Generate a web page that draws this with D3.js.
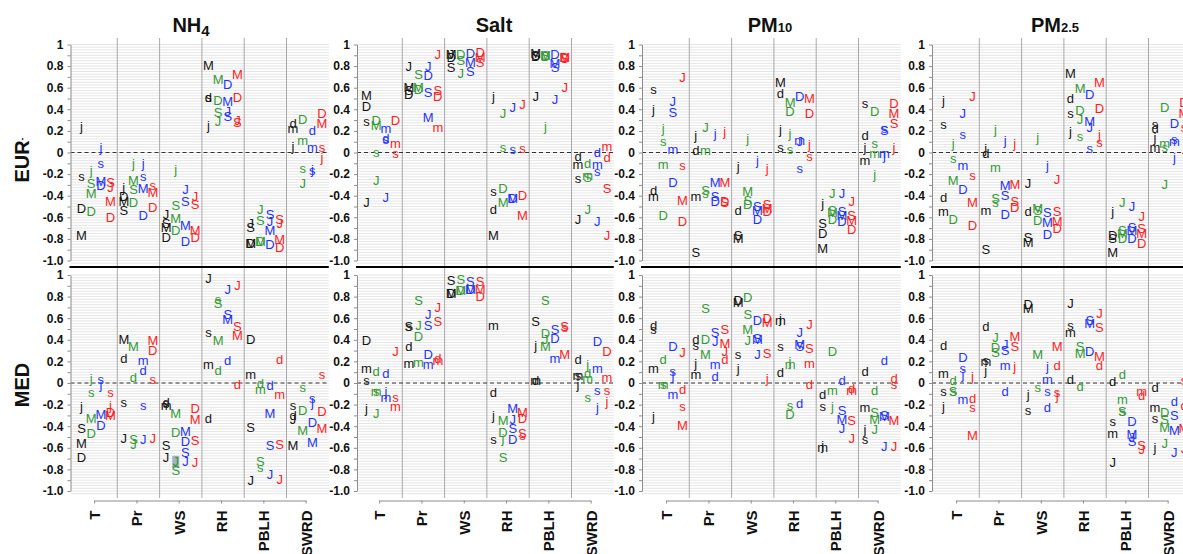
<!DOCTYPE html>
<html lang="en">
<head>
<meta charset="UTF-8">
<title>Correlations by meteorological variable</title>
<style>
  body { margin: 0; background: #fff; }
  svg { display: block; font-family: "Liberation Sans", Arial, sans-serif; }
  .grid line { stroke: #dedede; stroke-width: 0.8; }
  .sep { stroke: #a9a9a9; stroke-width: 1; }
  .zero { stroke: #333; stroke-width: 1; stroke-dasharray: 4,3; }
  .yaxis path, .yaxis line, .xaxis path, .xaxis line { stroke: #8c8c8c; }
  .yaxis text { font-size: 12px; font-weight: bold; fill: #111; }
  .xaxis text { font-size: 15px; font-weight: bold; fill: #111; }
  .title { font-size: 20px; font-weight: bold; fill: #111; }
  .rowlab { font-size: 20px; font-weight: bold; fill: #111; }
  .mark { font-size: 13px; }
</style>
</head>
<body>
<script src="https://d3js.org/d3.v7.min.js"></script>
<script>
const variables = ["T", "Pr", "WS", "RH", "PBLH", "SWRD"];
const species = ["NH4", "Salt", "PM10", "PM2.5"];
const regions = ["EUR", "MED"];
const seriesColors = ["#151515", "#349a34", "#1f33ff", "#ff1c1c"];

// one string per variable, colour groups: black | green | blue | red
const nh4Eur = [
  "j.24 s-.22 D-.52 M-.77 | j-.17 S-.29 M-.38 D-.55 | j.05 s-.1 M-.27 D-.31 | S-.28 J-.32 M-.45 D-.6",
  "j-.32 D-.41 M-.45 S-.54 | j-.1 M-.26 S-.34 D-.46 | j-.1 s-.22 M-.33 D-.58 | s-.31 M-.37 D-.51",
  "J-.57 S-.66 M-.69 D-.79 | j-.16 S-.49 M-.61 D-.72 | J-.34 S-.45 M-.68 D-.82 | J-.41 S-.48 M-.72 D-.79",
  "M.81 d.51 s.51 j.25 | M.68 D.48 S.37 J.29 | D.63 M.47 J.38 S.33 | M.72 D.51 J.3 S.28",
  "J-.66 S-.69 M-.84 D-.84 | J-.53 S-.63 M-.82 D-.82 | S-.57 J-.64 M-.72 D-.85 | S-.62 J-.66 M-.81 D-.88",
  "d.27 m.22 j.06 | D.31 m.11 s-.15 J-.29 | d.2 m.05 s-.17 j-.16 | D.36 M.27 s.05 j-.05"
];
const nh4Med = [
  "j-.22 S-.42 M-.56 D-.69 | j.04 s-.09 M-.33 D-.47 | s.03 j-.01 M-.29 D-.39 | s-.09 j-.21 D-.27 M-.3",
  "M.4 d.23 s-.18 J-.51 | M.34 d.05 S-.52 J-.57 | m.21 d.12 s-.21 J-.52 | M.39 D.3 s.03 J-.51",
  "d-.18 s-.19 m-.21 S-.58 J-.69 | M-.28 D-.46 J-.73 S-.81 | M-.45 D-.54 S-.64 J-.73 | D-.24 M-.34 S-.53 J-.74",
  "J.97 s.47 m.17 d-.33 | s.77 S.74 M.39 d.12 | J.87 S.63 M.59 d.21 | J.9 S.52 M.44 d-.01",
  "D.4 m.08 S-.41 J-.9 | d0 m-.06 S-.73 s-.78 | d-.02 M-.28 S-.58 J-.85 | d.22 m-.11 S-.57 J-.89",
  "s-.21 d-.3 J-.34 M-.58 | s-.04 D-.25 M-.44 | s-.14 j-.18 D-.37 M-.55 | s.08 D-.26 M-.42"
];
const saltEur = [
  "M.53 D.43 s.29 J-.46 | D.3 M.25 s0 J-.26 | m.22 d.13 s.12 J-.42 | D.3 m.08 s-.01",
  "J.8 M.6 S.57 D.54 | S.72 M.6 D.58 | J.8 D.71 S.56 M.32 | J.91 S.57 D.52 m.23",
  "M.91 J.91 D.88 S.79 | D.91 S.85 J.73 | D.92 M.83 S.75 | D.93 M.88 S.83",
  "j.52 s-.36 d-.53 M-.77 | J.36 s.05 D-.33 M-.46 | J.42 s.03 M-.43 D-.43 | J.44 s.04 D-.4 M-.58",
  "M.92 D.89 S.9 J.52 | M.9 D.89 S.9 j.24 | D.91 M.82 S.79 J.49 | D.88 M.88 S.87 J.6",
  "d-.04 m-.11 s-.24 J-.62 | d-.1 m-.21 S-.23 J-.53 | d0 m-.11 s-.18 J-.64 | m.06 d-.05 S-.33 J-.77"
];
const saltMed = [
  "D.39 m.13 s.02 j-.24 | d.11 m-.08 s-.08 J-.28 | d.09 j-.08 m-.13 | J.29 s-.13 m-.22",
  "S.52 s.52 d.34 m.18 | S.76 J.53 D.43 m.19 | J.63 S.53 D.26 m.17 | J.7 S.57 m.21 d.23",
  "S.95 M.83 D.83 | S.96 M.86 D.86 | S.94 M.87 D.87 | S.94 M.87 D.8",
  "m.53 d-.09 j-.3 s-.52 | M-.35 D-.46 j-.51 S-.69 | M-.24 J-.34 S-.42 D-.52 | M-.27 D-.33 S-.47 s-.49",
  "S.57 j.35 m.02 d.02 | S.76 D.46 J.4 M.34 | S.5 D.41 m.23 | S.52 s.51 M.26",
  "d.22 s.07 m.07 j-.01 | j.17 d.09 m.04 s-.13 | D.38 m.13 s-.07 j-.23 | D.29 m.05 s-.07 j-.17"
];
const pm10Eur = [
  "s.58 j.4 d-.35 m-.41 | j.22 s.1 m-.11 D-.58 | J.47 S.37 m.03 D-.28 | J.69 s-.12 M-.44 D-.64",
  "j.16 d.02 m-.41 S-.93 | J.23 m.02 S-.35 s-.38 | j.18 M-.28 S-.41 D-.45 | j.19 M-.28 D-.45 S-.46",
  "j-.13 d-.54 S-.77 M-.8 | j.13 M-.36 S-.44 D-.48 | j-.07 S-.5 M-.54 D-.62 | j-.15 S-.48 M-.52 D-.55",
  "M.65 d.55 j.21 s.05 | M.46 D.38 j.18 s.03 | D.52 m.11 J.1 s-.15 | M.5 D.36 j.07 s-.04",
  "j-.47 S-.66 D-.75 M-.89 | J-.38 S-.54 M-.56 D-.62 | J-.38 S-.55 M-.58 D-.64 | J-.45 S-.58 M-.63 D-.71",
  "s.45 d.16 j.05 m-.07 | D.38 s.08 m-.01 j-.2 | s.22 S.2 m-.01 j-.03 | D.45 M.36 S.27 j.05"
];
const pm10Med = [
  "d.53 s.5 m.13 j-.31 | d.22 s-.01 m-.01 | D.34 s.11 j.07 m-.11 | J.28 d-.06 s-.22 M-.39",
  "d.4 s.35 j.18 m.08 | S.69 D.4 M.26 | S.47 J.38 m.17 d.06 | S.5 M.37 J.29 d.22",
  "M.75 D.76 s.26 j.13 | D.79 S.63 M.5 J.39 | D.58 M.4 S.41 J.26 | D.6 M.56 S.27 j.04",
  "m.58 j.6 s.34 d.1 | j.2 m.17 s-.21 D-.29 | J.47 M.36 S.34 d-.19 | J.54 S.32 m.18 d-.01",
  "d-.11 s-.22 m-.6 j-.58 | D.29 m-.07 j-.22 | d.02 S-.25 M-.34 J-.42 | d-.05 m-.07 S-.35 J-.51",
  "d.11 m-.23 j-.43 s-.52 | d-.07 S-.27 M-.34 J-.43 | d.21 S-.3 M-.31 J-.59 | d.04 s-.01 M-.35 J-.59"
];
const pm25Eur = [
  "j.48 s.26 d-.42 m-.55 | j.08 s-.06 M-.26 D-.62 | J.36 s.17 m-.12 D-.34 | J.52 s-.21 M-.46 D-.68",
  "j.04 d-.01 m-.54 S-.9 | j.21 m-.14 S-.43 s-.46 | j.11 M-.31 S-.4 D-.57 | j.08 M-.3 S-.45 D-.51",
  "J-.29 d-.55 S-.79 M-.83 | j.14 M-.52 S-.54 D-.63 | j-.12 S-.56 M-.65 D-.76 | J-.25 S-.55 M-.64 D-.7",
  "M.73 d.5 s.36 j.19 | M.59 D.39 J.31 s.15 | D.54 M.29 J.23 s.04 | M.65 D.41 j.17 s.09",
  "j-.55 D-.77 S-.8 M-.93 | J-.46 S-.72 M-.75 D-.8 | J-.5 S-.69 M-.72 D-.8 | J-.59 S-.7 M-.75 D-.84",
  "s.26 d.22 j.14 m.05 | D.42 m.08 s.05 J-.3 | D.27 s.12 m.1 j-.05 | D.46 M.36 s.23 j.06"
];
const pm25Med = [
  "d.35 m.09 s-.08 j-.22 | d.02 s-.08 S-.08 | D.24 s.13 j.08 m-.15 | j.06 d-.14 s-.23 M-.49",
  "d.52 s.21 m.2 j.12 | J.42 D.33 S.28 | J.36 S.3 m.16 d-.08 | M.43 S.34 j.15",
  "D.73 M.69 j-.11 s-.25 | M.26 s-.04 | j.15 m.03 s-.08 d-.23 | M.34 d.16 s-.09 j-.12",
  "J.74 s.53 m.47 d.03 | S.34 M.27 d-.03 | S.58 M.55 D.29 | J.64 S.51 M.25 d.16",
  "d.01 s-.36 m-.47 J-.74 | d.08 m-.15 S-.26 s-.26 | D-.36 M-.48 J-.5 S-.54 | m-.08 d-.12 S-.58 J-.62",
  "d-.04 m-.23 s-.33 j-.6 | D-.27 S-.34 M-.41 J-.56 | d-.17 S-.3 M-.44 J-.64 | s.02 d-.21 M-.42 J-.61"
];

const panelData = [[nh4Eur, nh4Med], [saltEur, saltMed], [pm10Eur, pm10Med], [pm25Eur, pm25Med]];

// layout
const width = 1183, height = 554;
const catLeft = [75, 360, 647, 937];
const axisXs = [70.5, 357, 642, 932];
const titleXs = [191, 494, 770, 1055];
const catW = 42.3;
const rowRange = [[260.5, 44.5], [491, 275]];
const rowTop = [38, 267];
const rowBottom = [267, 498];
const rowLabY = [160, 385];

function parseCell(str) {
  return str.split("|").flatMap((grp, ci) =>
    grp.trim().split(/\s+/).filter(Boolean).map(tok => {
      const m = tok.match(/^([A-Za-z])(-?[\d.]+)$/);
      return {letter: m[1], value: +m[2], color: ci};
    }));
}

const svg = d3.select("body").append("svg").attr("width", width).attr("height", height);

const fmt = v => {
  const r = Math.round(v * 10);
  if (r % 2 !== 0) return "";
  if (r === 10) return "1";
  if (r === 0) return "0";
  return (r / 10).toFixed(1);
};

species.forEach((sp, pi) => {
  const x = d3.scaleBand().domain(variables).range([catLeft[pi], catLeft[pi] + catW * 6]).padding(0);
  const cx = d3.scalePoint().domain([0, 1, 2, 3]).range([6.5, 35.5]);
  const right = catLeft[pi] + catW * 6;

  regions.forEach((rg, ri) => {
    const y = d3.scaleLinear().domain([-1, 1]).range(rowRange[ri]);
    const g = svg.append("g");

    // dense horizontal gridlines
    g.append("g").attr("class", "grid")
      .selectAll("line").data(d3.range(-41, 41).map(i => i * 0.025)).join("line")
      .attr("x1", axisXs[pi]).attr("x2", right)
      .attr("y1", d => y(d)).attr("y2", d => y(d));

    // category separators
    g.selectAll("line.sep").data(variables.slice(1)).join("line")
      .attr("class", "sep")
      .attr("x1", d => x(d)).attr("x2", d => x(d))
      .attr("y1", rowTop[ri]).attr("y2", rowBottom[ri]);

    g.append("line").attr("class", "zero")
      .attr("x1", axisXs[pi]).attr("x2", right)
      .attr("y1", y(0)).attr("y2", y(0));

    g.append("g").attr("class", "yaxis")
      .attr("transform", `translate(${axisXs[pi]},0)`)
      .call(d3.axisLeft(y).tickValues(d3.range(-10, 11).map(i => i / 10))
        .tickSize(3).tickSizeOuter(0).tickPadding(4).tickFormat(fmt));

    const pts = panelData[pi][ri].flatMap((cell, vi) =>
      parseCell(cell).map(p => Object.assign(p, {variable: variables[vi]})));

    // selection highlight left in the original figure
    if (pi === 0 && ri === 1) {
      const h = pts.find(p => p.variable === "WS" && p.color === 1 && p.letter === "J");
      g.append("rect")
        .attr("x", x(h.variable) + cx(h.color) - 3.5).attr("y", y(h.value) - 6)
        .attr("width", 7).attr("height", 12)
        .attr("fill", "#8fa9ba").attr("opacity", 0.85);
    }

    g.append("g").selectAll("text").data(pts).join("text")
      .attr("class", "mark")
      .attr("x", d => x(d.variable) + cx(d.color))
      .attr("y", d => y(d.value))
      .attr("text-anchor", "middle")
      .attr("dominant-baseline", "central")
      .attr("fill", d => seriesColors[d.color])
      .text(d => d.letter);
  });

  // heavy divider between the two rows
  svg.append("line")
    .attr("x1", axisXs[pi] - 1).attr("x2", right)
    .attr("y1", 267).attr("y2", 267)
    .attr("stroke", "#000").attr("stroke-width", 2);

  // category axis at the bottom
  const xp = d3.scalePoint().domain(variables)
    .range([catLeft[pi] + catW / 2 - 2, catLeft[pi] + catW * 5.5 - 2]);
  const xa = svg.append("g").attr("class", "xaxis")
    .attr("transform", "translate(0,500.5)")
    .call(d3.axisBottom(xp).tickSize(3).tickSizeOuter(0));
  xa.selectAll("text")
    .attr("x", -10).attr("y", 0).attr("dy", "0.36em")
    .attr("transform", "rotate(-90)")
    .style("text-anchor", "end");

  // panel title
  const t = svg.append("text").attr("class", "title")
    .attr("x", titleXs[pi]).attr("y", 32).attr("text-anchor", "middle");
  if (sp === "NH4") {
    t.append("tspan").text("NH");
    t.append("tspan").attr("font-size", 15).attr("dy", 4).text("4");
  } else if (sp.startsWith("PM")) {
    t.append("tspan").text("PM");
    t.append("tspan").attr("font-size", 13).text(sp.slice(2));
  } else {
    t.text(sp);
  }
});

regions.forEach((rg, ri) => {
  const t = svg.append("text").attr("class", "rowlab")
    .attr("transform", `translate(29,${rowLabY[ri]}) rotate(-90)`)
    .attr("text-anchor", "middle");
  t.append("tspan").text(rg);
  if (rg === "EUR") t.append("tspan").attr("font-size", 9).attr("dy", -4).text("-");
});
</script>
</body>
</html>
